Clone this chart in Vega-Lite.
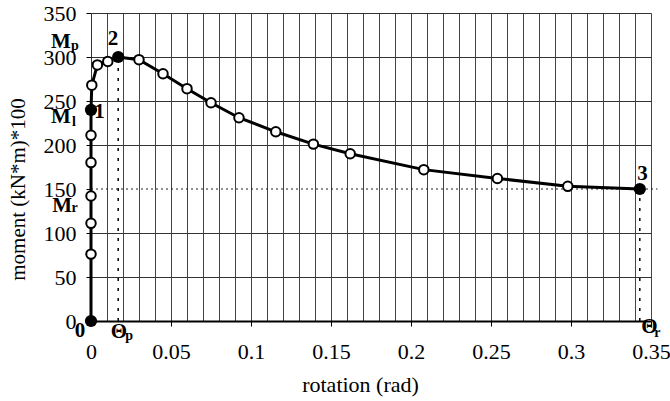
{
  "$schema": "https://vega.github.io/schema/vega-lite/v6.json",
  "width": 560,
  "height": 308,
  "autosize": "none",
  "padding": {"left": 91, "top": 13, "right": 19, "bottom": 80},
  "background": "white",
  "config": {
    "view": {"stroke": null},
    "font": "Liberation Serif",
    "axis": {"labelFont": "Liberation Serif, Times New Roman, serif", "titleFont": "Liberation Serif, Times New Roman, serif"},
    "text": {"font": "Liberation Serif"}
  },
  "datasets": {
    "curve": [
      {"step": 1, "rotation": 0, "moment": 0, "kind": "key"},
      {"step": 2, "rotation": 0, "moment": 76, "kind": "open"},
      {"step": 3, "rotation": 0, "moment": 111, "kind": "open"},
      {"step": 4, "rotation": 0, "moment": 142, "kind": "open"},
      {"step": 5, "rotation": 0, "moment": 180, "kind": "open"},
      {"step": 6, "rotation": 0, "moment": 211, "kind": "open"},
      {"step": 7, "rotation": 0, "moment": 240, "kind": "key"},
      {"step": 8, "rotation": 0.0005, "moment": 268, "kind": "open"},
      {"step": 9, "rotation": 0.004, "moment": 291, "kind": "open"},
      {"step": 10, "rotation": 0.0105, "moment": 295, "kind": "open"},
      {"step": 11, "rotation": 0.017, "moment": 300, "kind": "key"},
      {"step": 12, "rotation": 0.030, "moment": 297, "kind": "open"},
      {"step": 13, "rotation": 0.045, "moment": 281, "kind": "open"},
      {"step": 14, "rotation": 0.060, "moment": 264, "kind": "open"},
      {"step": 15, "rotation": 0.075, "moment": 248, "kind": "open"},
      {"step": 16, "rotation": 0.0925, "moment": 231, "kind": "open"},
      {"step": 17, "rotation": 0.1155, "moment": 215, "kind": "open"},
      {"step": 18, "rotation": 0.139, "moment": 201, "kind": "open"},
      {"step": 19, "rotation": 0.162, "moment": 190, "kind": "open"},
      {"step": 20, "rotation": 0.208, "moment": 172, "kind": "open"},
      {"step": 21, "rotation": 0.254, "moment": 162, "kind": "open"},
      {"step": 22, "rotation": 0.298, "moment": 153, "kind": "open"},
      {"step": 23, "rotation": 0.343, "moment": 150, "kind": "key"}
    ],
    "hguide": [{"rotation": 0, "rotation2": 0.354, "moment": 150}],
    "vguide": [
      {"rotation": 0.017, "moment": 0, "moment2": 300},
      {"rotation": 0.343, "moment": 0, "moment2": 150}
    ],
    "labels": [
      {"t": "M", "rotation": -0.0188, "moment": 310},
      {"t": "M", "rotation": -0.0188, "moment": 225},
      {"t": "M", "rotation": -0.018, "moment": 124},
      {"t": "0", "rotation": -0.0069, "moment": -18},
      {"t": "Θ", "rotation": 0.0175, "moment": -19.3},
      {"t": "Θ", "rotation": 0.349, "moment": -13.6},
      {"t": "1", "rotation": 0.0053, "moment": 231},
      {"t": "2", "rotation": 0.0138, "moment": 314},
      {"t": "3", "rotation": 0.3447, "moment": 160}
    ],
    "subs": [
      {"t": "p", "rotation": -0.01, "moment": 308},
      {"t": "l", "rotation": -0.0106, "moment": 221.6},
      {"t": "r", "rotation": -0.0103, "moment": 124},
      {"t": "p", "rotation": 0.0238, "moment": -21.6},
      {"t": "r", "rotation": 0.354, "moment": -18}
    ]
  },
  "encoding": {
    "x": {"field": "rotation", "type": "quantitative",
      "scale": {"domain": [0, 0.35], "nice": false, "zero": false},
      "axis": {
        "values": [0,0.01,0.02,0.03,0.04,0.05,0.06,0.07,0.08,0.09,0.1,0.11,0.12,0.13,0.14,0.15,0.16,0.17,0.18,0.19,0.2,0.21,0.22,0.23,0.24,0.25,0.26,0.27,0.28,0.29,0.3,0.31,0.32,0.33,0.34,0.35],
        "title": "rotation (rad)",
        "labelExpr": "round(datum.value*100) % 5 == 0 ? format(datum.value, '~g') : ''",
        "labelOverlap": false,
        "labelFlush": false,
        "labelBound": false,
        "labelFont": "Liberation Serif, Times New Roman, serif",
        "labelFontSize": 22,
        "labelColor": "black",
        "labelPadding": 15,
        "tickSize": 5,
        "tickColor": "black",
        "tickOpacity": {"condition": {"test": "round(datum.value*100) % 5 == 0", "value": 1}, "value": 0},
        "domainColor": "black",
        "domainWidth": 1.8,
        "grid": true,
        "gridColor": "#444",
        "gridWidth": 1,
        "gridOpacity": 1,
        "titleFontSize": 22,
        "titleFontWeight": "normal",
        "titleColor": "black",
        "titleX": 269,
        "titleY": 63,
        "titleBaseline": "middle",
        "titleAlign": "center"
      }
    },
    "y": {"field": "moment", "type": "quantitative",
      "scale": {"domain": [0, 350], "nice": false, "zero": false},
      "axis": {
        "values": [0, 50, 100, 150, 200, 250, 300, 350],
        "title": "moment (kN*m)*100",
        "labelFont": "Liberation Serif, Times New Roman, serif",
        "labelFontSize": 22,
        "labelColor": "black",
        "labelPadding": 10,
        "tickSize": 5,
        "tickColor": "black",
        "domainColor": "#333",
        "domainWidth": 1,
        "grid": true,
        "gridColor": "#333",
        "gridWidth": 1,
        "gridOpacity": {"condition": {"test": "datum.value == 150", "value": 0}, "value": 1},
        "titleFontSize": 21,
        "titleFontWeight": "normal",
        "titleColor": "black",
        "titleX": -73,
        "titleY": 176,
        "titleBaseline": "middle",
        "titleAlign": "center",
        "titleAngle": -90
      }
    }
  },
  "layer": [
    {
      "data": {"name": "hguide"},
      "mark": {"type": "rule", "color": "#222", "strokeWidth": 1.2, "strokeDash": [2, 3]},
      "encoding": {"x2": {"field": "rotation2"}}
    },
    {
      "data": {"name": "vguide"},
      "mark": {"type": "rule", "color": "black", "strokeWidth": 1.5, "strokeDash": [3, 7]},
      "encoding": {"y2": {"field": "moment2"}}
    },
    {
      "data": {"name": "curve"},
      "mark": {"type": "line", "color": "black", "strokeWidth": 3},
      "encoding": {"order": {"field": "step"}}
    },
    {
      "data": {"name": "curve"},
      "transform": [{"filter": "datum.kind == 'open'"}],
      "mark": {"type": "point", "shape": "circle", "filled": true, "fill": "white", "stroke": "black", "strokeWidth": 2, "size": 90, "opacity": 1},
      "encoding": {}
    },
    {
      "data": {"name": "curve"},
      "transform": [{"filter": "datum.kind == 'key'"}],
      "mark": {"type": "point", "shape": "circle", "filled": true, "color": "black", "size": 150, "opacity": 1},
      "encoding": {}
    },
    {
      "data": {"name": "labels"},
      "mark": {"type": "text", "font": "Liberation Serif", "fontWeight": "bold", "fontSize": 21, "color": "black", "align": "center", "baseline": "alphabetic"},
      "encoding": {"text": {"field": "t"}}
    },
    {
      "data": {"name": "subs"},
      "mark": {"type": "text", "font": "Liberation Serif", "fontWeight": "bold", "fontSize": 14, "color": "black", "align": "center", "baseline": "alphabetic"},
      "encoding": {"text": {"field": "t"}}
    }
  ]
}
